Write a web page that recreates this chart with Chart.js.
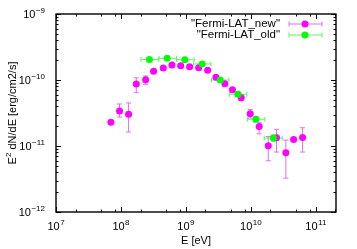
<!DOCTYPE html>
<html>
<head>
<meta charset="utf-8">
<script src="https://cdn.jsdelivr.net/npm/chart.js@4.4.1/dist/chart.umd.min.js"></script>
<style>
  html, body { margin: 0; padding: 0; background: #fff; }
</style>
</head>
<body>
<canvas id="chart" width="357" height="249"></canvas>
<script>
// Fermi-LAT new: energy [eV], E^2 dN/dE and error range
const newE    = [7.0e7, 9.5e7, 1.31e8, 1.72e8, 2.4e8, 3.18e8, 4.48e8, 6.09e8, 8.3e8, 1.14e9, 1.57e9, 2.16e9,
                 2.9e9, 3.98e9, 5.2e9, 7.1e9, 9.75e9, 1.34e10, 1.85e10, 2.48e10, 3.45e10, 4.54e10, 6.24e10];
const newFlux = [2.29e-11, 3.39e-11, 3.02e-11, 8.7e-11, 1.01e-10, 1.355e-10, 1.52e-10, 1.69e-10, 1.65e-10, 1.59e-10,
                 1.53e-10, 1.40e-10, 1.10e-10, 8.75e-11, 7.13e-11, 5.37e-11, 3.08e-11, 1.97e-11, 1.01e-11, 1.33e-11,
                 7.92e-12, 1.26e-11, 1.34e-11];
const newLow  = [2.2e-11, 2.75e-11, 1.63e-11, 6.43e-11, 8.6e-11, 1.3e-10, 1.46e-10, 1.62e-10, 1.58e-10, 1.52e-10,
                 1.46e-10, 1.33e-10, 1.04e-10, 8.2e-11, 6.6e-11, 4.9e-11, 2.65e-11, 1.53e-11, 5.97e-12, 8.1e-12,
                 3.26e-12, 1.2e-11, 8.1e-12];
const newHigh = [2.38e-11, 4.33e-11, 4.49e-11, 1.08e-10, 1.15e-10, 1.41e-10, 1.58e-10, 1.76e-10, 1.72e-10, 1.66e-10,
                 1.6e-10, 1.47e-10, 1.16e-10, 9.3e-11, 7.7e-11, 5.85e-11, 3.56e-11, 2.29e-11, 1.39e-11, 1.79e-11,
                 1.23e-11, 1.32e-11, 1.89e-11];

// Fermi-LAT old: energy bins and flux
const oldE     = [2.74e8, 5.14e8, 9.6e8, 1.78e9, 3.37e9, 6.3e9, 1.19e10, 2.22e10];
const oldELow  = [2.03e8, 3.85e8, 7.2e8, 1.3e9, 2.47e9, 4.67e9, 8.83e9, 1.6e10];
const oldEHigh = [3.75e8, 7.2e8, 1.34e9, 2.43e9, 4.59e9, 8.67e9, 1.64e10, 3.03e10];
const oldFlux  = [2.05e-10, 2.13e-10, 2.03e-10, 1.75e-10, 1.0e-10, 6.07e-11, 2.54e-11, 1.32e-11];
const oldLow   = [1.92e-10, 2.0e-10, 1.9e-10, 1.63e-10, 9.3e-11, 5.6e-11, 2.3e-11, 1.18e-11];
const oldHigh  = [2.18e-10, 2.26e-10, 2.16e-10, 1.87e-10, 1.07e-10, 6.55e-11, 2.8e-11, 1.47e-11];

// Tick values
const xMajor = [1e7, 1e8, 1e9, 1e10, 1e11];
const xMinorSteps = [2, 5, 8];
const yMajor = [1e-12, 1e-11, 1e-10, 1e-9];
const yMinorSteps = [2, 3, 4, 5, 6, 7, 8, 9];

const seriesLabels = ['"Fermi-LAT_new"', '"Fermi-LAT_old"'];
const MAGENTA = '#ff00ff';
const MAGENTA_BAR = '#e070e0';
const GREEN = '#00ff00';
const GREEN_BAR = '#66ee66';
const FONT = '"Liberation Sans", Arial, Helvetica, sans-serif';

function toPoints(xs, ys) {
    return xs.map((x, i) => ({ x: x, y: ys[i] }));
}

// draw "10" with a raised exponent
function powerLabel(ctx, exp, x, y, align) {
    const base = '10';
    const sup = String(exp).replace('-', '\u2212');
    ctx.font = '11px ' + FONT;
    const wb = ctx.measureText(base).width;
    ctx.font = '8px ' + FONT;
    const ws = ctx.measureText(sup).width;
    const total = wb + ws + 0.5;
    let x0 = align === 'right' ? x - total : x - total / 2;
    ctx.textAlign = 'left';
    ctx.textBaseline = 'middle';
    ctx.font = '11px ' + FONT;
    ctx.fillText(base, x0, y);
    ctx.font = '8px ' + FONT;
    ctx.fillText(sup, x0 + wb + 0.5, y - 4);
}

const gnuplotLook = {
    id: 'gnuplotLook',
    beforeDatasetsDraw(chart) {
        const ctx = chart.ctx;
        const xs = chart.scales.x, ys = chart.scales.y;
        const cap = 2.5;
        ctx.save();
        ctx.lineWidth = 1;
        // magenta vertical error bars
        ctx.strokeStyle = MAGENTA_BAR;
        newE.forEach((e, i) => {
            const px = xs.getPixelForValue(e);
            const y1 = ys.getPixelForValue(newLow[i]);
            const y2 = ys.getPixelForValue(newHigh[i]);
            ctx.beginPath();
            ctx.moveTo(px, y1); ctx.lineTo(px, y2);
            ctx.moveTo(px - cap, y1); ctx.lineTo(px + cap, y1);
            ctx.moveTo(px - cap, y2); ctx.lineTo(px + cap, y2);
            ctx.stroke();
        });
        // green x/y error bars
        ctx.strokeStyle = GREEN_BAR;
        oldE.forEach((e, i) => {
            const px = xs.getPixelForValue(e);
            const py = ys.getPixelForValue(oldFlux[i]);
            const xl = xs.getPixelForValue(oldELow[i]);
            const xh = xs.getPixelForValue(oldEHigh[i]);
            const y1 = ys.getPixelForValue(oldLow[i]);
            const y2 = ys.getPixelForValue(oldHigh[i]);
            ctx.beginPath();
            ctx.moveTo(xl, py); ctx.lineTo(xh, py);
            ctx.moveTo(xl, py - cap); ctx.lineTo(xl, py + cap);
            ctx.moveTo(xh, py - cap); ctx.lineTo(xh, py + cap);
            ctx.moveTo(px, y1); ctx.lineTo(px, y2);
            ctx.moveTo(px - cap, y1); ctx.lineTo(px + cap, y1);
            ctx.moveTo(px - cap, y2); ctx.lineTo(px + cap, y2);
            ctx.stroke();
        });
        ctx.restore();
    },
    afterDraw(chart) {
        const ctx = chart.ctx;
        const a = chart.chartArea;
        const xs = chart.scales.x, ys = chart.scales.y;
        ctx.save();
        ctx.strokeStyle = '#000';
        ctx.fillStyle = '#000';

        // inward ticks on all four sides
        ctx.lineWidth = 1;
        ctx.beginPath();
        xMajor.forEach(v => {
            const steps = [[v, 5]].concat(xMinorSteps.map(m => [v * m, 2.5]));
            steps.forEach(([t, len]) => {
                if (t < xs.min || t > xs.max) return;
                const px = Math.round(xs.getPixelForValue(t)) + 0.5;
                ctx.moveTo(px, a.bottom); ctx.lineTo(px, a.bottom - len);
                ctx.moveTo(px, a.top); ctx.lineTo(px, a.top + len);
            });
        });
        yMajor.forEach(v => {
            const steps = [[v, 5]].concat(yMinorSteps.map(m => [v * m, 2.5]));
            steps.forEach(([t, len]) => {
                if (t < ys.min || t > ys.max * 1.0001) return;
                const py = Math.round(ys.getPixelForValue(t)) + 0.5;
                ctx.moveTo(a.left, py); ctx.lineTo(a.left + len, py);
                ctx.moveTo(a.right, py); ctx.lineTo(a.right - len, py);
            });
        });
        ctx.stroke();

        // frame
        ctx.lineWidth = 1.4;
        ctx.strokeRect(a.left, a.top, a.right - a.left, a.bottom - a.top);

        // tick labels
        xMajor.forEach(v => {
            powerLabel(ctx, Math.round(Math.log10(v)), xs.getPixelForValue(v), a.bottom + 15, 'center');
        });
        yMajor.forEach(v => {
            powerLabel(ctx, Math.round(Math.log10(v)), a.left - 11, ys.getPixelForValue(v) + 1, 'right');
        });

        // axis titles
        ctx.font = '11px ' + FONT;
        ctx.textAlign = 'center';
        ctx.textBaseline = 'middle';
        ctx.fillText('E [eV]', (a.left + a.right) / 2, 241);

        ctx.save();
        ctx.translate(13, (a.top + a.bottom) / 2);
        ctx.rotate(-Math.PI / 2);
        const p1 = 'E', p2 = '2', p3 = ' dN/dE [erg/cm2/s]';
        const w1 = ctx.measureText(p1).width, w3 = ctx.measureText(p3).width;
        ctx.font = '8px ' + FONT;
        const w2 = ctx.measureText(p2).width;
        let sx = -(w1 + w2 + w3) / 2;
        ctx.textAlign = 'left';
        ctx.font = '11px ' + FONT;
        ctx.fillText(p1, sx, 0);
        ctx.font = '8px ' + FONT;
        ctx.fillText(p2, sx + w1, -4);
        ctx.font = '11px ' + FONT;
        ctx.fillText(p3, sx + w1 + w2, 0);
        ctx.restore();

        // legend, gnuplot style: text then sample
        const rows = [
            { y: 24, color: MAGENTA, bar: MAGENTA_BAR },
            { y: 35, color: GREEN, bar: GREEN_BAR }
        ];
        rows.forEach((r, i) => {
            ctx.font = '11.5px ' + FONT;
            ctx.fillStyle = '#000';
            ctx.textAlign = 'right';
            ctx.textBaseline = 'middle';
            ctx.fillText(seriesLabels[i], 280, r.y);
            ctx.strokeStyle = r.bar;
            ctx.lineWidth = 1;
            ctx.beginPath();
            ctx.moveTo(289, r.y); ctx.lineTo(322, r.y);
            ctx.moveTo(289, r.y - 2.5); ctx.lineTo(289, r.y + 2.5);
            ctx.moveTo(322, r.y - 2.5); ctx.lineTo(322, r.y + 2.5);
            ctx.stroke();
            ctx.fillStyle = r.color;
            ctx.beginPath();
            ctx.arc(305, r.y, 3.5, 0, Math.PI * 2);
            ctx.fill();
        });
        ctx.restore();
    }
};

const ctx = document.getElementById('chart').getContext('2d');
new Chart(ctx, {
    type: 'scatter',
    data: {
        datasets: [{
            label: seriesLabels[0],
            data: toPoints(newE, newFlux),
            backgroundColor: MAGENTA,
            borderColor: MAGENTA,
            borderWidth: 0,
            pointRadius: 3.5,
            order: 1
        }, {
            label: seriesLabels[1],
            data: toPoints(oldE, oldFlux),
            backgroundColor: GREEN,
            borderColor: GREEN,
            borderWidth: 0,
            pointRadius: 3.5,
            order: 0
        }]
    },
    options: {
        responsive: false,
        animation: false,
        events: [],
        layout: { padding: { left: 0, top: 14, right: 21, bottom: 0 } },
        plugins: {
            legend: { display: false },
            tooltip: { enabled: false }
        },
        scales: {
            x: {
                type: 'logarithmic',
                min: 1e7,
                max: 2.04e11,
                grid: { display: false },
                border: { display: false },
                ticks: { display: false },
                afterFit: function(scale) { scale.height = 37; }
            },
            y: {
                type: 'logarithmic',
                min: 1e-12,
                max: 1e-9,
                grid: { display: false },
                border: { display: false },
                ticks: { display: false },
                afterFit: function(scale) { scale.width = 56; }
            }
        }
    },
    plugins: [gnuplotLook]
});
</script>
</body>
</html>
